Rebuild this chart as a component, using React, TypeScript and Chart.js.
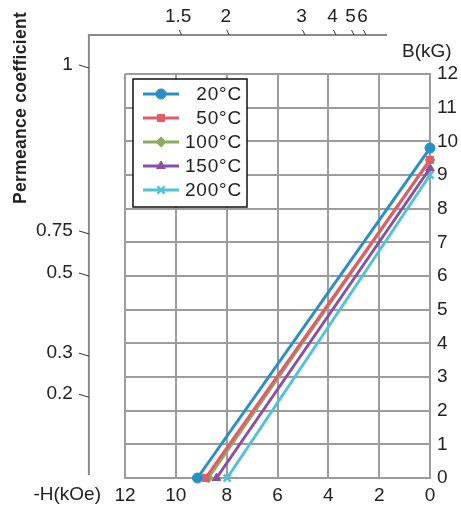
import { useEffect, useRef } from 'react';
import { Chart, registerables } from 'chart.js';
import { drawPoint } from 'chart.js/helpers';

Chart.register(...registerables);

// ---- data ----
const seriesLabels = ['20°C', '50°C', '100°C', '150°C', '200°C'];
const seriesColors = ['#2a8fc2', '#e15b6b', '#8aae60', '#8a4fa5', '#50c4d2'];
const seriesMarkers = ['circle', 'rect', 'rectRot', 'triangle', 'crossRot'];
// -H (kOe) where B = 0
const hIntercepts = [9.15, 8.83, 8.72, 8.4, 7.98];
// B (kG) where H = 0
const bIntercepts = [9.8, 9.45, 9.45, 9.2, 9.0];

const xTickValues = [12, 10, 8, 6, 4, 2, 0];
const yTickValues = [0, 1, 2, 3, 4, 5, 6, 7, 8, 9, 10, 11, 12];

// Permeance coefficient scale: top frame (positions in -H kOe), left frame (positions in B kG)
const topPcLabels = ['1.5', '2', '3', '4', '5', '6'];
const topPcH = [9.77, 7.9, 4.92, 3.7, 2.99, 2.52];
const leftPcLabels = ['1', '0.75', '0.5', '0.3', '0.2'];
const leftPcB = [12.18, 7.25, 6.0, 3.62, 2.4];
// outer frame extents in data units
const frameLeftH = 13.42;
const frameTopB = 13.16;
const frameRightH = 1.69;
const frameBottomB = 0.09;

const FONT = 'Arial, "Liberation Sans", Helvetica, sans-serif';

const overlayPlugin = {
  id: 'overlay',
  afterDraw(chart: any) {
    const ctx: any = chart.ctx;
    const xs = chart.scales.x;
    const ys = chart.scales.y;
    const leftX = xs.getPixelForValue(frameLeftH);
    const topY = ys.getPixelForValue(frameTopB);
    const rightX = xs.getPixelForValue(frameRightH);
    const bottomY = ys.getPixelForValue(frameBottomB);

    ctx.save();
    // outer permeance frame
    ctx.strokeStyle = '#8a8a8a';
    ctx.lineWidth = 2;
    ctx.beginPath();
    ctx.moveTo(leftX, bottomY);
    ctx.lineTo(leftX, topY);
    ctx.lineTo(rightX, topY);
    ctx.stroke();

    ctx.fillStyle = '#222';
    ctx.font = `19px ${FONT}`;
    ctx.textBaseline = 'middle';

    // top ticks
    ctx.strokeStyle = '#333';
    ctx.lineWidth = 1;
    topPcLabels.forEach((lab, i) => {
      const px = xs.getPixelForValue(topPcH[i]);
      ctx.beginPath();
      ctx.moveTo(px - 2.5, topY - 5);
      ctx.lineTo(px, topY);
      ctx.stroke();
      ctx.textAlign = 'center';
      ctx.fillText(lab, px - 3.5, topY - 18);
    });
    // left ticks
    leftPcLabels.forEach((lab, i) => {
      const py = ys.getPixelForValue(leftPcB[i]);
      ctx.beginPath();
      ctx.moveTo(leftX - 10, py - 3);
      ctx.lineTo(leftX, py);
      ctx.stroke();
      ctx.textAlign = 'right';
      ctx.fillText(lab, leftX - 16, py - 3);
    });

    // axis titles
    ctx.textAlign = 'left';
    ctx.fillText('B(kG)', 402, 52);
    ctx.textAlign = 'right';
    ctx.fillText('-H(kOe)', 101, 495);

    // vertical title
    ctx.save();
    ctx.translate(21, 108);
    ctx.rotate(-Math.PI / 2);
    ctx.textAlign = 'center';
    ctx.font = `bold 17.5px ${FONT}`;
    ctx.letterSpacing = '0.3px';
    ctx.fillText('Permeance coefficient', 0, 0);
    ctx.restore();

    // legend
    const lx = 133, ly = 79, lw = 114, lh = 128;
    ctx.fillStyle = '#fff';
    ctx.fillRect(lx, ly, lw, lh);
    ctx.strokeStyle = '#111';
    ctx.lineWidth = 1.5;
    ctx.strokeRect(lx, ly, lw, lh);
    chart.data.datasets.forEach((ds: any, i: number) => {
      const cy = ly + 15 + i * 24;
      ctx.strokeStyle = ds.borderColor;
      ctx.lineWidth = 3;
      ctx.beginPath();
      ctx.moveTo(143, cy);
      ctx.lineTo(179, cy);
      ctx.stroke();
      ctx.fillStyle = ds.borderColor;
      ctx.strokeStyle = ds.borderColor;
      ctx.lineWidth = ds.pointStyle === 'crossRot' ? 2.5 : 1;
      drawPoint(ctx, { pointStyle: ds.pointStyle, radius: 5, rotation: 0, borderWidth: ctx.lineWidth }, 161, cy);
      ctx.fillStyle = '#222';
      ctx.font = `19px ${FONT}`;
      ctx.letterSpacing = '0.8px';
      ctx.textAlign = 'right';
      ctx.textBaseline = 'middle';
      ctx.fillText(ds.label, 242, cy + 1);
      ctx.letterSpacing = '0px';
    });
    ctx.restore();
  },
};

export default function App() {
  const ref = useRef<HTMLCanvasElement | null>(null);
  useEffect(() => {
    document.body.style.margin = '0';
    if (!ref.current) return;
    const datasets = seriesLabels.map((label, i) => ({
      label,
      data: [
        { x: hIntercepts[i], y: 0 },
        { x: 0, y: bIntercepts[i] },
      ],
      borderColor: seriesColors[i],
      backgroundColor: seriesColors[i],
      pointBackgroundColor: seriesColors[i],
      pointBorderColor: seriesColors[i],
      pointStyle: seriesMarkers[i],
      pointRadius: 5,
      pointBorderWidth: seriesMarkers[i] === 'crossRot' ? 2.5 : 1,
      borderWidth: 3,
      tension: 0,
      clip: false as any,
    }));
    const chart = new Chart(ref.current, {
      type: 'line',
      data: { datasets },
      options: {
        animation: false,
        responsive: false,
        layout: { padding: { left: 125, top: 74, right: 0, bottom: 0 } },
        plugins: { legend: { display: false }, tooltip: { enabled: false } },
        scales: {
          x: {
            type: 'linear',
            reverse: true,
            min: 0,
            max: 12,
            afterBuildTicks: (s: any) => {
              s.ticks = xTickValues.map((v) => ({ value: v }));
            },
            afterFit: (s: any) => {
              s.height = 36;
            },
            ticks: { font: { size: 19, family: FONT }, color: '#222', padding: 6, maxRotation: 0 },
            grid: { color: '#9c9c9c', lineWidth: 2, drawTicks: false },
            border: { display: true, color: '#9c9c9c', width: 2 },
          },
          y: {
            type: 'linear',
            position: 'right',
            min: 0,
            max: 12,
            afterBuildTicks: (s: any) => {
              s.ticks = yTickValues.map((v) => ({ value: v }));
            },
            afterFit: (s: any) => {
              s.width = 31;
            },
            ticks: { font: { size: 19, family: FONT }, color: '#222', padding: 7 },
            grid: { color: '#9c9c9c', lineWidth: 2, drawTicks: false },
            border: { display: true, color: '#9c9c9c', width: 2 },
          },
        },
      },
      plugins: [overlayPlugin],
    });
    return () => chart.destroy();
  }, []);
  return (
    <div style={{ width: 461, height: 514 }}>
      <canvas ref={ref} width={461} height={514} />
    </div>
  );
}
